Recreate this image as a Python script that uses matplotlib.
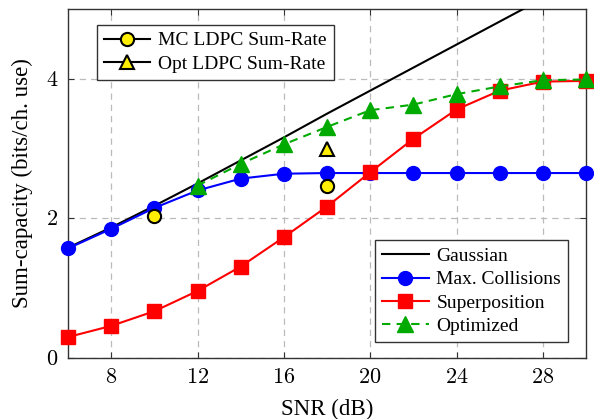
import matplotlib
matplotlib.use("Agg")
import matplotlib.pyplot as plt
from matplotlib.lines import Line2D

plt.rcParams['font.family'] = ['Liberation Serif', 'DejaVu Serif']
plt.rcParams['mathtext.fontset'] = 'cm'

snr = [6, 8, 10, 12, 14, 16, 18, 20, 22, 24, 26, 28, 30]
gaussian = [1.58, 1.87, 2.18, 2.50, 2.83, 3.16, 3.50, 3.83, 4.16, 4.49, 4.82, 5.15, 5.48]
max_coll = [1.57, 1.85, 2.15, 2.40, 2.57, 2.64, 2.65, 2.65, 2.65, 2.65, 2.65, 2.65, 2.65]
superpos = [0.30, 0.46, 0.67, 0.96, 1.31, 1.73, 2.17, 2.66, 3.14, 3.56, 3.83, 3.96, 3.97]
snr_opt = [12, 14, 16, 18, 20, 22, 24, 26, 28, 30]
optimized = [2.47, 2.78, 3.06, 3.31, 3.55, 3.63, 3.78, 3.89, 3.98, 3.99]
snr_mc = [10, 18]
mc_ldpc = [2.03, 2.46]
snr_optldpc = [18]
opt_ldpc = [3.00]

xticks = [8, 12, 16, 20, 24, 28]
yticks = [0, 2, 4]

fig = plt.figure(figsize=(5.94, 4.19), dpi=100)
ax = fig.add_axes([68/594, 1-358/419, (586-68)/594, (358-9)/419])

ax.plot(snr, gaussian, color='black', lw=1.5, label='Gaussian', zorder=3)
ax.plot(snr, max_coll, color='blue', lw=1.5, marker='o', ms=10, label='Max. Collisions',
        zorder=4, clip_on=False)
ax.plot(snr, superpos, color='red', lw=1.5, marker='s', ms=9.5, label='Superposition',
        zorder=4, clip_on=False)
ax.plot(snr_opt, optimized, color='#00aa00', lw=1.5, ls=(0, (4, 3)), marker='^', ms=11,
        label='Optimized', zorder=5, clip_on=False)
ax.plot(snr_mc, mc_ldpc, ls='none', marker='o', ms=9.5, mfc='#ffee00', mec='black', mew=1.5, zorder=6)
ax.plot(snr_optldpc, opt_ldpc, ls='none', marker='^', ms=9.5, mfc='#ffee00', mec='black', mew=1.5, zorder=6)

ax.set_xlim(6, 30)
ax.set_ylim(0, 5)
ax.set_xticks(xticks)
ax.set_xticklabels([f'${t}$' for t in xticks])
ax.set_yticks(yticks)
ax.set_yticklabels([f'${t}$' for t in yticks])
ax.tick_params(direction='in', top=True, right=True, length=4, width=0.8, labelsize=16,
               color='#333333')
ax.tick_params(axis='x', pad=8)
ax.tick_params(axis='y', pad=7)
ax.grid(True, color='#bbbbbb', ls=(0, (5, 4)), lw=0.9)
for s in ax.spines.values():
    s.set_color('#333333')
    s.set_linewidth(1.0)

ax.set_xlabel('SNR (dB)', fontsize=16.5, labelpad=8)
ax.set_ylabel('Sum-capacity (bits/ch. use)', fontsize=16.5, labelpad=9)

common = dict(fontsize=14, fancybox=False, framealpha=1, edgecolor='#333333', handlelength=2.4,
              borderaxespad=0, labelspacing=0.3, handletextpad=0.4, borderpad=0.35)

leg2 = ax.legend(loc='lower right', bbox_to_anchor=((568-68)/518, (358-342)/349), **common)
leg2.get_frame().set_linewidth(1.0)
ax.add_artist(leg2)

h1 = [Line2D([], [], color='black', lw=1.5, marker='o', ms=9.5, mfc='#ffee00', mec='black', mew=1.5),
      Line2D([], [], color='black', lw=1.5, marker='^', ms=9.5, mfc='#ffee00', mec='black', mew=1.5)]
leg1 = ax.legend(h1, ['MC LDPC Sum-Rate', 'Opt LDPC Sum-Rate'], loc='upper left',
                 bbox_to_anchor=((97-68)/518, (358-25)/349), **common)
leg1.get_frame().set_linewidth(1.0)

fig.savefig('out.png', dpi=100)
